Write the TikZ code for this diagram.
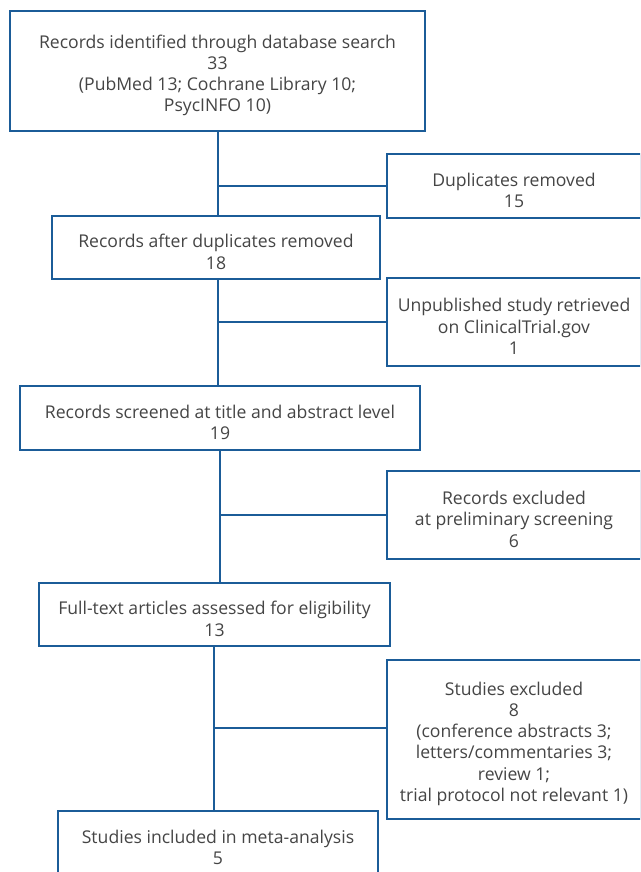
\documentclass[tikz,border=0pt]{standalone}
\usepackage{fontspec}
\setmainfont{Open Sans}
\definecolor{boxblue}{HTML}{1B5C98}
\definecolor{txtgray}{HTML}{454545}
\newcommand\lowerfix{\rule{0pt}{22pt}}
\begin{document}
\begin{tikzpicture}[x=1pt,y=-1pt,
  box/.style={draw=boxblue, line width=1.8pt, fill=white, align=center, inner sep=0pt,
    text=txtgray, font=\fontsize{17.6}{21.2}\selectfont},
  conn/.style={draw=boxblue, line width=1.6pt}]
\useasboundingbox (0,0) rectangle (640,872);
\clip (0,0) rectangle (640,872);
\node[box, minimum width=415pt, minimum height=120pt] (b1) at (217.5,71)
  {\lowerfix Records identified through database search\\33\\(PubMed 13; Cochrane Library 10;\\PsycINFO 10)};
\node[box, minimum width=254pt, minimum height=64pt] (dup) at (514,186)
  {\lowerfix Duplicates removed\\15};
\node[box, minimum width=328pt, minimum height=63pt] (b2) at (216,247.5)
  {\lowerfix Records after duplicates removed\\18};
\node[box, minimum width=254pt, minimum height=88pt] (unp) at (514,322)
  {\lowerfix Unpublished study retrieved\\on ClinicalTrial.gov\\1};
\node[box, minimum width=400pt, minimum height=64pt] (b3) at (220,418)
  {\lowerfix Records screened at title and abstract level\\19};
\node[box, minimum width=254pt, minimum height=88pt] (ex1) at (514,515)
  {\lowerfix Records excluded\\at preliminary screening\\6};
\node[box, minimum width=351pt, minimum height=63pt] (b4) at (214.5,614.5)
  {\lowerfix Full-text articles assessed for eligibility\\13};
\node[box, minimum width=254pt, minimum height=159pt] (ex2) at (514,739.5)
  {\lowerfix Studies excluded\\8\\(conference abstracts 3;\\letters/commentaries 3;\\review 1;\\trial protocol not relevant 1)};
\node[box, minimum width=320pt, minimum height=64pt] (b5) at (218,843)
  {\lowerfix Studies included in meta-analysis\\5};
\coordinate (j1) at (218,186);
\coordinate (j2) at (218,322);
\coordinate (j3) at (220,515);
\coordinate (j4) at (214,728);
\draw[conn] (b1.south -| j1) -- (b2.north -| j1);
\draw[conn] (j1) -- (dup.west |- j1);
\draw[conn] (b2.south -| j2) -- (b3.north -| j2);
\draw[conn] (j2) -- (unp.west |- j2);
\draw[conn] (b3.south -| j3) -- (b4.north -| j3);
\draw[conn] (j3) -- (ex1.west |- j3);
\draw[conn] (b4.south -| j4) -- (b5.north -| j4);
\draw[conn] (j4) -- (ex2.west |- j4);
\end{tikzpicture}
\end{document}
